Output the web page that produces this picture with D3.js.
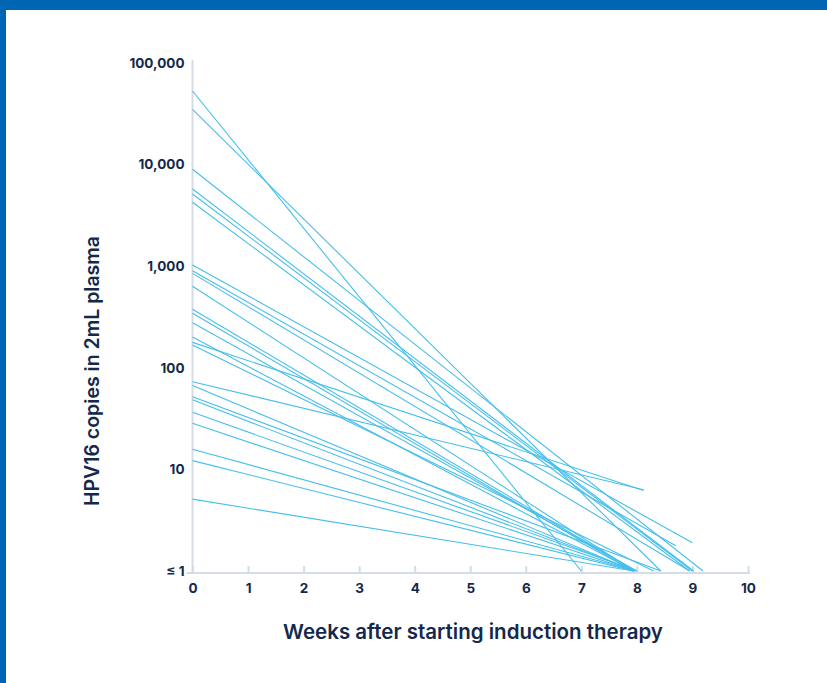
<!DOCTYPE html>
<html>
<head>
<meta charset="utf-8">
<script src="https://cdn.jsdelivr.net/npm/d3@7"></script>
<style>
  html, body { margin: 0; padding: 0; background: #ffffff; }
  svg { display: block; }
  text { font-family: Inter, "Noto Sans", sans-serif; fill: #14284b; }
</style>
</head>
<body>
<svg id="chart" width="827" height="683"></svg>
<script>
// Baseline HPV16 copies (week 0) for each patient
const baselineCopies = [53000, 35000, 9000, 5750, 5140, 4260, 1030, 900, 850, 635,
  377, 344, 278, 201, 178, 168, 73, 67, 52, 48.5, 36.5, 28.4, 15.8, 12.2, 5.1];
// Week of the last measurement for each patient
const lastWeek = [7.0, 8.43, 9.19, 9.02, 9.0, 8.95, 9.0, 8.7, 8.95, 7.95,
  7.97, 7.93, 8.0, 7.95, 8.12, 8.3, 8.12, 7.95, 8.43, 7.97, 8.0, 7.95, 7.97, 7.93, 7.95];
// Copies at the last measurement (1 = at or below detection)
const lastCopies = [1, 1, 1, 1, 1, 1, 1.9, 1.77, 1, 1,
  1, 1, 1, 1, 6.2, 1, 6.3, 1, 1, 1, 1, 1, 1, 1, 1];

const xTicks = [0, 1, 2, 3, 4, 5, 6, 7, 8, 9, 10];
const yTicks = [1, 10, 100, 1000, 10000, 100000];
const yTickLabels = ["\u2264 1", "10", "100", "1,000", "10,000", "100,000"];

const svg = d3.select("#chart");
const W = 827, H = 683;

// Blue frame along the top and left edges
svg.append("rect").attr("x", 0).attr("y", 0).attr("width", W).attr("height", H).attr("fill", "#0066b3");
svg.append("rect").attr("x", 6).attr("y", 10).attr("width", W - 6).attr("height", H - 10).attr("fill", "#ffffff");

const x = d3.scaleLinear().domain([0, 10]).range([192.5, 748]);
const y = d3.scaleLog().domain([1, 100000]).range([571, 63]);

const axisColor = "#d6dce6";
const axisY = 573;

// Y axis line
svg.append("line")
  .attr("x1", x(0)).attr("x2", x(0))
  .attr("y1", 60).attr("y2", axisY)
  .attr("stroke", axisColor).attr("stroke-width", 2);

// X axis with upward ticks
const xAxis = svg.append("g").attr("transform", `translate(0,${axisY})`)
  .call(d3.axisBottom(x).tickValues(xTicks).tickSize(-7).tickSizeOuter(0).tickFormat(d3.format("d")));
xAxis.select(".domain").attr("stroke", axisColor).attr("stroke-width", 2)
  .attr("d", `M${x(0) - 6},0H${x(10) + 2}`);
xAxis.selectAll(".tick line").attr("stroke", axisColor).attr("stroke-width", 2);
xAxis.selectAll(".tick text")
  .attr("y", 10).attr("dy", "0.71em")
  .attr("font-size", 13.5).attr("font-weight", 700)
  .style("fill", "#14284b");

// Y axis labels (no tick marks)
const yAxis = svg.append("g").attr("transform", `translate(${x(0)},0)`)
  .call(d3.axisLeft(y).tickValues(yTicks).tickSize(0)
    .tickFormat((d, i) => yTickLabels[i]));
yAxis.select(".domain").remove();
yAxis.selectAll(".tick text")
  .attr("x", -8)
  .attr("font-size", 13.5).attr("font-weight", 700)
  .style("fill", "#14284b");

// Patient trajectories
const lines = d3.range(baselineCopies.length).map(i => [
  [0, baselineCopies[i]], [lastWeek[i], lastCopies[i]]
]);
const lineGen = d3.line().x(d => x(d[0])).y(d => y(d[1]));
svg.append("g").selectAll("path").data(lines).join("path")
  .attr("d", lineGen)
  .attr("fill", "none")
  .attr("stroke", "#45bfea")
  .attr("stroke-width", 1.1);

// Axis titles
svg.append("text")
  .attr("x", 473).attr("y", 639)
  .attr("text-anchor", "middle")
  .attr("font-size", 20.5).attr("font-weight", 600)
  .text("Weeks after starting induction therapy");

svg.append("text")
  .attr("transform", "translate(99,371) rotate(-90)")
  .attr("text-anchor", "middle")
  .attr("font-size", 19.5).attr("font-weight", 600)
  .text("HPV16 copies in 2mL plasma");
</script>
</body>
</html>
